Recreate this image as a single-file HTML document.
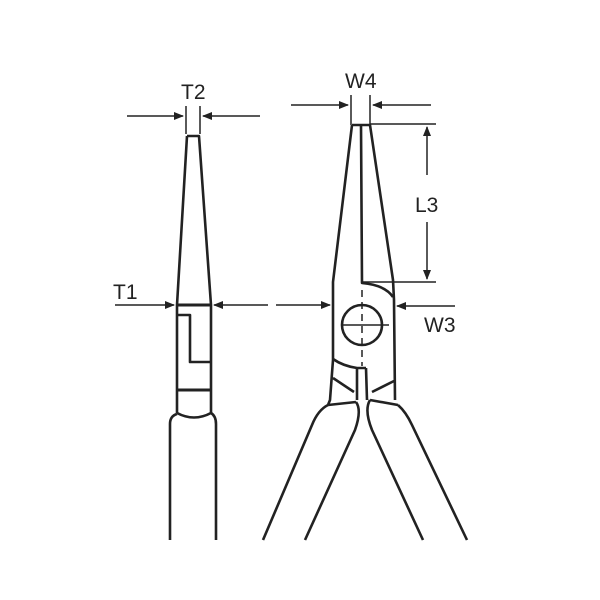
<!DOCTYPE html>
<html><head><style>
html,body{margin:0;padding:0;background:#fff;}
svg{display:block;}
text{font-family:"Liberation Sans",sans-serif;font-size:21px;fill:#222;}
</style></head><body>
<svg width="600" height="600" viewBox="0 0 600 600" xmlns="http://www.w3.org/2000/svg">
<defs>
<marker id="a" markerWidth="10" markerHeight="8" refX="9" refY="4" orient="auto" markerUnits="userSpaceOnUse">
<path d="M0,0 L10,4 L0,8 Z" fill="#222"/></marker>
</defs>
<g stroke="#222" fill="none" stroke-width="1.5">
<!-- T2 -->
<line x1="186" y1="106" x2="186" y2="134"/><line x1="200" y1="106" x2="200" y2="134"/>
<line x1="127" y1="116" x2="183" y2="116" marker-end="url(#a)"/>
<line x1="260" y1="116" x2="203" y2="116" marker-end="url(#a)"/>
<!-- T1 -->
<line x1="115" y1="305" x2="174" y2="305" marker-end="url(#a)"/>
<line x1="268" y1="305" x2="214" y2="305" marker-end="url(#a)"/>
<line x1="276" y1="305" x2="330" y2="305" marker-end="url(#a)"/>
<!-- W3 -->
<line x1="455" y1="306" x2="397" y2="306" marker-end="url(#a)"/>
<!-- W4 -->
<line x1="351" y1="95" x2="351" y2="125"/><line x1="370" y1="95" x2="370" y2="125"/>
<line x1="291" y1="105" x2="348" y2="105" marker-end="url(#a)"/>
<line x1="431" y1="105" x2="373" y2="105" marker-end="url(#a)"/>
<!-- L3 -->
<line x1="370" y1="124" x2="436" y2="124"/>
<line x1="362" y1="282" x2="436" y2="282"/>
<line x1="427" y1="175" x2="427" y2="127" marker-end="url(#a)"/>
<line x1="427" y1="222" x2="427" y2="279" marker-end="url(#a)"/>
<!-- crosshair -->
<line x1="341" y1="325" x2="389" y2="325"/>
<line x1="362" y1="290" x2="362" y2="366" stroke-dasharray="7,5"/>
</g>
<g stroke="#222" fill="none" stroke-width="2.6" stroke-linejoin="round">
<!-- left view -->
<path d="M187,136 L199,136 L211,305 L211,413 M187,136 L177,305 L177,413"/>
<line x1="177" y1="305" x2="211" y2="305" stroke-width="3"/>
<path d="M177,315 L190,315 L190,362 L211,362"/>
<line x1="177" y1="390" x2="211" y2="390" stroke-width="3"/>
<path d="M177,413 Q194,422 211,413"/>
<path d="M170,540 L170,424 Q170,416 177,414 M216,540 L216,424 Q216,416 211,413"/>
<!-- right view jaws -->
<path d="M352,125 L370,125 L393,280 L394,300 L395,400 M352,125 L333,282 L333,360 L330,400 L328,405"/>
<path d="M361,125 L362,283 Q385,285 393,297"/>
<circle cx="362" cy="325" r="20"/>
<path d="M333,359 Q343,366 357,368 L366,368"/>
<path d="M357,368 L357,400 M366,368 L367,400"/>
<path d="M333,378 L354,392 M372,392 L394,381"/>
<path d="M328,405 L356,402 M370,400 L398,405"/>
<!-- handles -->
<path d="M328,405 Q318,410 312,425 L263,540"/>
<path d="M356,402 Q362,410 355,430 L305,540"/>
<path d="M370,400 Q364,410 372,430 L423,540"/>
<path d="M398,405 Q406,412 412,425 L467,540"/>
</g>
<text x="181" y="99">T2</text>
<text x="113" y="299">T1</text>
<text x="345" y="88">W4</text>
<text x="415" y="212">L3</text>
<text x="424" y="332">W3</text>
</svg>
</body></html>
